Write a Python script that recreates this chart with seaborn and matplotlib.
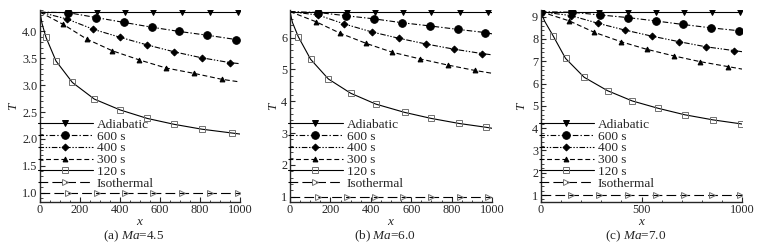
import numpy as np
import seaborn as sns
import matplotlib.pyplot as plt
from matplotlib.lines import Line2D
from matplotlib.ticker import MultipleLocator

# ---- data: (a) Ma=4.5, (b) Ma=6.0, (c) Ma=7.0 ----
captions = ["(a) $\\mathit{Ma}$=4.5", "(b) $\\mathit{Ma}$=6.0", "(c) $\\mathit{Ma}$=7.0"]

# constant walls
x_const = [[0, 142, 283, 425, 567, 708, 850, 992, 1000],
           [0, 140, 280, 420, 560, 700, 840, 980, 1000],
           [0, 150, 290, 432, 572, 710, 850, 990, 1000]]
t_adiabatic = [4.36, 6.82, 9.22]
t_isothermal = [1.0, 1.0, 1.0]

x_600 = [[0, 142, 280, 418, 558, 697, 837, 980, 1000],
         [0, 140, 278, 418, 554, 691, 832, 967, 1000],
         [0, 152, 293, 432, 570, 707, 845, 984, 1000]]
t_600 = [[4.36, 4.35, 4.26, 4.17, 4.08, 4.00, 3.93, 3.85, 3.84],
         [6.82, 6.79, 6.69, 6.59, 6.47, 6.37, 6.26, 6.16, 6.12],
         [9.22, 9.20, 9.08, 8.96, 8.81, 8.65, 8.50, 8.37, 8.35]]

x_400 = [[0, 137, 267, 402, 535, 672, 808, 950, 1000],
         [0, 140, 269, 405, 539, 674, 810, 950, 1000],
         [0, 149, 285, 417, 550, 686, 820, 959, 1000]]
t_400 = [[4.36, 4.23, 4.04, 3.89, 3.75, 3.62, 3.51, 3.42, 3.40],
         [6.82, 6.71, 6.43, 6.18, 5.98, 5.80, 5.64, 5.50, 5.46],
         [9.22, 9.05, 8.70, 8.40, 8.13, 7.88, 7.65, 7.48, 7.43]]

x_300 = [[0, 117, 233, 362, 497, 630, 770, 908, 1000],
         [0, 129, 248, 377, 507, 645, 780, 914, 1000],
         [0, 141, 265, 397, 525, 661, 793, 931, 1000]]
t_300 = [[4.36, 4.13, 3.86, 3.64, 3.47, 3.32, 3.22, 3.11, 3.06],
         [6.82, 6.50, 6.14, 5.82, 5.54, 5.33, 5.14, 4.97, 4.88],
         [9.22, 8.81, 8.30, 7.88, 7.54, 7.24, 6.98, 6.76, 6.65]]

x_120 = [[0, 10, 30, 80, 162, 272, 400, 537, 672, 810, 958, 1000],
         [0, 12, 41, 102, 190, 301, 425, 567, 699, 838, 972, 1000],
         [0, 18, 61, 122, 215, 331, 454, 583, 715, 856, 997, 1000]]
t_120 = [[4.36, 4.15, 3.89, 3.45, 3.05, 2.74, 2.54, 2.38, 2.27, 2.18, 2.11, 2.09],
         [6.82, 6.48, 6.03, 5.32, 4.70, 4.25, 3.91, 3.65, 3.46, 3.30, 3.18, 3.15],
         [9.22, 8.80, 8.13, 7.13, 6.28, 5.68, 5.22, 4.89, 4.60, 4.37, 4.19, 4.18]]

ylims = [(0.83, 4.40), (0.84, 6.87), (0.70, 9.30)]
ymajor = [0.5, 1, 1]
yminor = [0.1, 0.2, 0.2]
xmajor = [200, 200, 500]
xminor = [50, 50, 100]
axes_left = [40, 290, 541]
axes_width = [200, 202, 201]

sns.set_style("ticks")
plt.rcParams['font.family'] = ['Liberation Serif', 'DejaVu Serif']
plt.rcParams['mathtext.fontset'] = 'custom'
plt.rcParams['mathtext.rm'] = 'Liberation Serif'
plt.rcParams['mathtext.it'] = 'Liberation Serif:italic'
plt.rcParams['lines.scale_dashes'] = False

LW = 0.8
GREY = '#707070'
styles = {
    'Adiabatic': dict(ls='-', marker='v', ms=4, mfc='k', mec='k'),
    '600 s': dict(ls=(0, (4, 1.5, 1, 1.5)), marker='o', ms=5.5, mfc='k', mec='k'),
    '400 s': dict(ls=(0, (4, 1.2, 1, 1.2, 1, 1.2)), marker='D', ms=3.5, mfc='k', mec='k'),
    '300 s': dict(ls=(0, (3.5, 2)), marker='^', ms=3.5, mfc='k', mec='k'),
    '120 s': dict(ls='-', marker='s', ms=4, mfc='none', mec=GREY),
    'Isothermal': dict(ls=(0, (7, 3)), marker='>', ms=4, mfc='none', mec=GREY),
}

fig = plt.figure(figsize=(7.64, 2.47), dpi=100)
W, H = 764, 247
top_px, bot_px = 10, 201.7

for i in range(3):
    ax = fig.add_axes([axes_left[i] / W, 1 - bot_px / H,
                       axes_width[i] / W, (bot_px - top_px) / H])
    n_c = len(x_const[i])
    series = [
        ('Adiabatic', x_const[i], [t_adiabatic[i]] * n_c, list(range(1, n_c - 1))),
        ('600 s', x_600[i], t_600[i],
         list(range(0 if i == 2 else 1, len(x_600[i]) - 1))),
        ('400 s', x_400[i], t_400[i], list(range(1, len(x_400[i]) - 1))),
        ('300 s', x_300[i], t_300[i], list(range(1, len(x_300[i]) - 1))),
        ('120 s', x_120[i], t_120[i], list(range(2, len(x_120[i]) - 1))),
        ('Isothermal', x_const[i], [t_isothermal[i]] * n_c, list(range(1, n_c - 1))),
    ]
    handles = []
    for name, xs, ts, marks in series:
        st = styles[name]
        sns.lineplot(x=xs, y=ts, ax=ax, color='k', lw=LW, linestyle=st['ls'],
                     marker=st['marker'], markersize=st['ms'], markerfacecolor=st['mfc'],
                     markeredgecolor=st['mec'], markeredgewidth=0.7, markevery=marks,
                     sort=False, estimator=None, legend=False)
        handles.append(Line2D([], [], color='k', lw=LW, linestyle=st['ls'],
                              marker=st['marker'], markersize=st['ms'],
                              markerfacecolor=st['mfc'], markeredgecolor=st['mec'],
                              markeredgewidth=0.7, label=name))

    ax.set_xlim(0, 1000)
    ax.set_ylim(*ylims[i])
    ax.xaxis.set_major_locator(MultipleLocator(xmajor[i]))
    ax.xaxis.set_minor_locator(MultipleLocator(xminor[i]))
    ax.yaxis.set_major_locator(MultipleLocator(ymajor[i]))
    ax.yaxis.set_minor_locator(MultipleLocator(yminor[i]))
    if i == 0:
        ax.yaxis.set_major_formatter(plt.FormatStrFormatter('%.1f'))
    else:
        ax.yaxis.set_major_formatter(plt.FormatStrFormatter('%d'))
    ax.tick_params(which='major', direction='in', length=3.5, width=0.8, labelsize=8.8, pad=2)
    ax.tick_params(which='minor', direction='in', length=1.8, width=0.6)
    sns.despine(ax=ax)
    for s in ('left', 'bottom'):
        ax.spines[s].set_linewidth(1.0)
    ax.set_xlabel('$\\mathit{x}$', fontsize=9.5, labelpad=0)
    ax.set_ylabel('$\\mathit{T}$', fontsize=9.5, labelpad=1 if i < 2 else 3)
    ax.text(0.47, -0.18, captions[i], transform=ax.transAxes, ha='center', va='center',
            fontsize=9.5)

    ax.legend(handles=handles, loc='lower left', bbox_to_anchor=(-0.01, 0.062),
              frameon=False, fontsize=9.6, handlelength=4.1, handletextpad=0.3,
              labelspacing=-0.04, borderpad=0, borderaxespad=0, numpoints=1)

fig.savefig('out.png', dpi=100)
